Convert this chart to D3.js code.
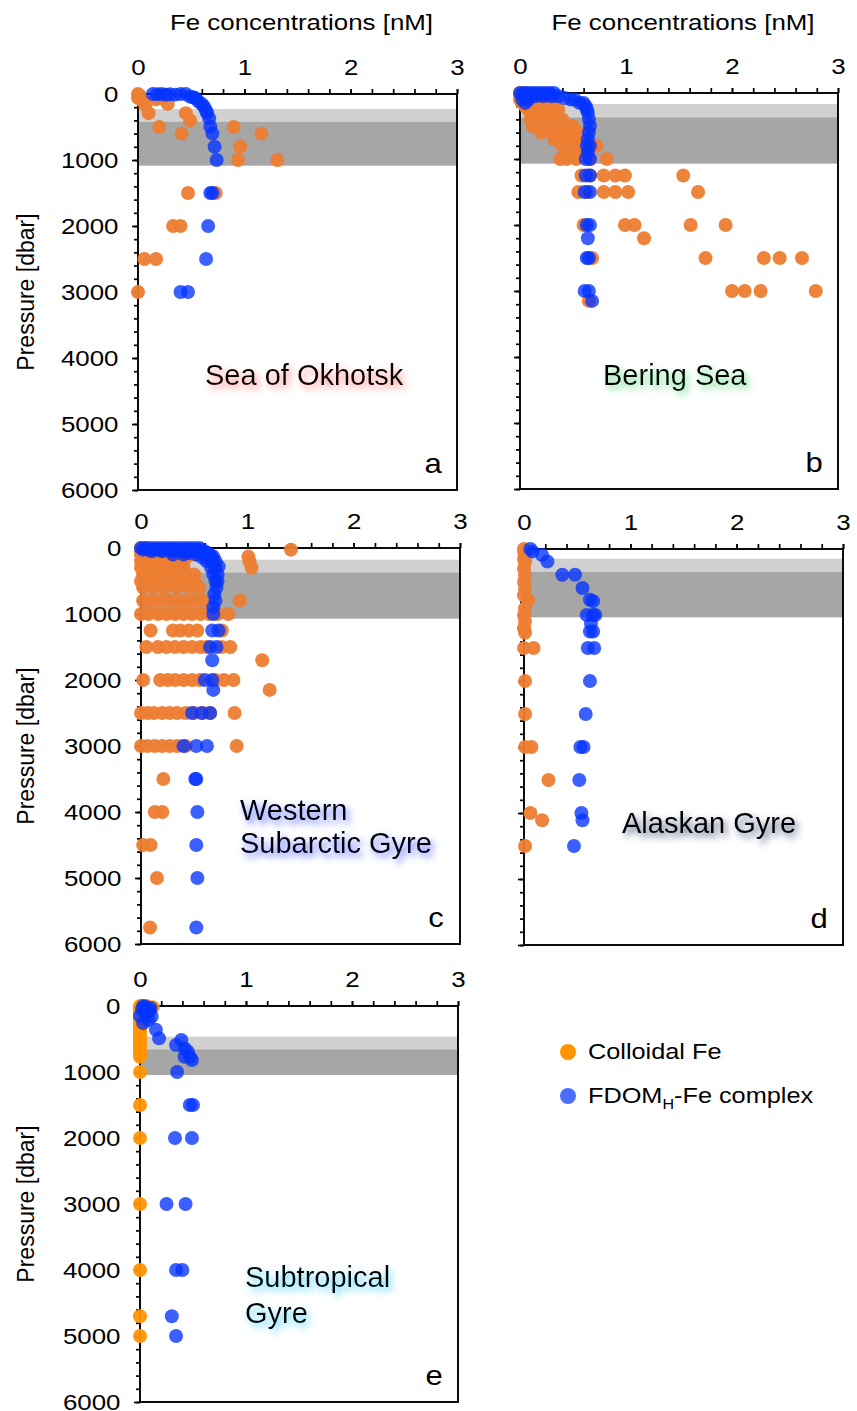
<!DOCTYPE html>
<html>
<head>
<meta charset="utf-8">
<script src="https://cdn.jsdelivr.net/npm/d3@7"></script>
<style>
body { margin: 0; background: #fff; }
text { font-family: "Liberation Sans", Arial, Helvetica, sans-serif; }
</style>
</head>
<body>
<svg id="fig"></svg>
<script>
// tick labels
const feTicks = [0, 1, 2, 3];
const pressureTicks = [0, 1000, 2000, 3000, 4000, 5000, 6000];

// [Fe nM, pressure dbar]
const okhotskColloidal = [
  [0.00, 0], [0.02, 30], [0.00, 60], [0.04, 100], [0.17, 80], [0.23, 60], [0.26, 10], [0.24, 40],
  [0.28, 150], [0.07, 170], [0.10, 290], [0.20, 500], [0.41, 600], [0.45, 290], [0.49, 400],
  [0.90, 500], [1.16, 600], [0.96, 800], [0.94, 1000], [1.31, 1000], [0.47, 1500], [0.73, 1500],
  [0.33, 2000], [0.40, 2000], [0.06, 2500], [0.17, 2500], [0.00, 3000]
];
const okhotskFdom = [
  [0.14, 0], [0.18, 5], [0.22, 0], [0.26, 10], [0.30, 5], [0.35, 10], [0.40, 0], [0.45, 0],
  [0.49, 40], [0.52, 50], [0.54, 65], [0.57, 115], [0.60, 150], [0.62, 190], [0.64, 250],
  [0.65, 290], [0.67, 370], [0.68, 495], [0.70, 600], [0.72, 800], [0.74, 1000], [0.68, 1500],
  [0.70, 1500], [0.66, 2000], [0.64, 2500], [0.40, 3000], [0.47, 3000]
];

// rows: [pressure, [Fe values]]
const beringColloidalRows = [
  [0, [0.00, 0.04]], [25, [0.00, 0.06]], [50, [0.02, 0.10]], [100, [0.00, 0.08, 0.16]],
  [150, [0.02, 0.12, 0.22]], [200, [0.05, 0.15, 0.25, 0.32]], [250, [0.08, 0.18, 0.28, 0.36]],
  [300, [0.10, 0.20, 0.30]], [400, [0.10, 0.20, 0.30, 0.40]], [500, [0.12, 0.22, 0.32, 0.42, 0.50]],
  [600, [0.20, 0.30, 0.40, 0.50, 0.55]], [700, [0.32, 0.45, 0.52]], [800, [0.40, 0.48, 0.56, 0.72]],
  [900, [0.45, 0.55]], [1000, [0.38, 0.44, 0.53, 0.66, 0.82]],
  [1250, [0.58, 0.66, 0.79, 0.90, 0.99, 1.54]], [1500, [0.55, 0.63, 0.79, 0.90, 1.02, 1.68]],
  [2000, [0.60, 0.99, 1.08, 1.61, 1.94]], [2200, [1.17]], [2500, [0.68, 1.75, 2.30, 2.45, 2.66]],
  [3000, [2.00, 2.12, 2.27, 2.79]], [3150, [0.65]]
];
const beringFdomRows = [
  [0, [0.00, 0.04, 0.08, 0.12, 0.16, 0.20, 0.24, 0.28, 0.32]], [25, [0.02, 0.10, 0.18, 0.26]],
  [50, [0.06, 0.14, 0.22, 0.30, 0.36]], [75, [0.42]], [100, [0.02, 0.08, 0.48, 0.52]],
  [150, [0.05, 0.56, 0.60]], [200, [0.62]], [250, [0.63]], [300, [0.64]], [400, [0.65]],
  [500, [0.66]], [600, [0.65]], [700, [0.64]], [800, [0.63, 0.66]], [900, [0.64]],
  [1000, [0.62, 0.66]], [1250, [0.62, 0.66]], [1500, [0.61, 0.66]], [2000, [0.63, 0.66]],
  [2200, [0.64]], [2500, [0.63, 0.65]], [3000, [0.61, 0.65]], [3150, [0.68]]
];

const wsgColloidalRows = [
  [0, [0.00, 0.05]], [25, [0.00, 0.10, 0.20, 1.41]], [50, [0.00, 0.08, 0.16, 0.25, 0.35]],
  [75, [0.02, 0.12, 0.22, 0.32, 0.42]], [100, [0.00, 0.10, 0.20, 0.30, 0.40, 0.50]], [130, [1.01]],
  [150, [0.02, 0.12, 0.22, 0.32, 0.42]], [200, [0.00, 0.10, 0.20, 0.30, 0.40, 1.02]],
  [250, [0.05, 0.15, 0.25, 0.35]], [300, [0.00, 0.10, 0.20, 0.30, 0.40, 1.04]],
  [400, [0.02, 0.12, 0.22, 0.32, 0.42, 0.50]], [500, [0.00, 0.10, 0.20, 0.30, 0.40, 0.50]],
  [600, [0.02, 0.12, 0.22, 0.34, 0.46, 0.55]], [800, [0.02, 0.10, 0.18, 0.26, 0.34, 0.42, 0.50, 0.58, 0.93]],
  [1000, [0.00, 0.07, 0.16, 0.24, 0.32, 0.40, 0.48, 0.56, 0.64, 0.72, 0.82]],
  [1250, [0.09, 0.30, 0.37, 0.45, 0.53, 0.76]],
  [1500, [0.05, 0.16, 0.24, 0.32, 0.40, 0.48, 0.56, 0.62, 0.76, 0.84]], [1700, [1.14]],
  [2000, [0.02, 0.18, 0.25, 0.32, 0.40, 0.48, 0.55, 0.70, 0.78, 0.87]], [2150, [1.21]],
  [2500, [0.00, 0.06, 0.12, 0.20, 0.27, 0.34, 0.42, 0.50, 0.58, 0.65, 0.88]],
  [3000, [0.00, 0.06, 0.13, 0.20, 0.27, 0.34, 0.42, 0.90]], [3500, [0.21]],
  [4000, [0.13, 0.20]], [4500, [0.02, 0.09]], [5000, [0.15]], [5750, [0.085]]
];
const wsgFdomRows = [
  [0, [0.00, 0.05, 0.10, 0.15, 0.20, 0.25, 0.30, 0.35, 0.40, 0.45, 0.50, 0.55]],
  [25, [0.02, 0.08, 0.14, 0.20, 0.26, 0.32, 0.38, 0.44, 0.50, 0.56]],
  [50, [0.10, 0.20, 0.30, 0.40, 0.50, 0.60]], [75, [0.45, 0.55, 0.62]], [100, [0.30, 0.40, 0.52, 0.60, 0.65]],
  [130, [0.68]], [150, [0.58, 0.66]], [200, [0.62, 0.70]], [280, [0.73]], [300, [0.66, 0.70]],
  [400, [0.68, 0.72]], [500, [0.70, 0.72]], [600, [0.71]], [700, [0.69]], [800, [0.70]],
  [900, [0.68]], [1000, [0.68]], [1250, [0.67, 0.73]], [1500, [0.65, 0.71]], [1700, [0.67]],
  [2000, [0.60, 0.67]], [2150, [0.68]], [2500, [0.48, 0.57, 0.65]], [3000, [0.40, 0.52, 0.62]],
  [3500, [0.51, 0.52]], [4000, [0.53]], [4500, [0.52]], [5000, [0.53]], [5750, [0.52]]
];

const alaskanColloidal = [
  [0.00, 0], [0.00, 40], [0.01, 90], [0.00, 150], [0.01, 200], [0.00, 300], [0.01, 400],
  [0.00, 500], [0.01, 600], [0.00, 700], [0.04, 780], [0.01, 900], [0.00, 1000], [0.01, 1100],
  [0.00, 1200], [0.01, 1270], [0.00, 1500], [0.09, 1500], [0.01, 2000], [0.01, 2500],
  [0.01, 3000], [0.07, 3000], [0.23, 3500], [0.06, 4000], [0.17, 4110], [0.01, 4500]
];
const alaskanFdom = [
  [0.06, 0], [0.08, 40], [0.17, 90], [0.22, 190], [0.36, 390], [0.48, 390], [0.55, 590],
  [0.62, 770], [0.65, 790], [0.59, 1000], [0.65, 1000], [0.67, 1000], [0.63, 1130], [0.62, 1250],
  [0.65, 1250], [0.60, 1500], [0.66, 1500], [0.62, 2000], [0.58, 2500], [0.53, 3000], [0.56, 3000],
  [0.52, 3500], [0.54, 4000], [0.55, 4110], [0.47, 4500]
];

const subtropicalColloidal = [
  [0.00, 0], [0.06, 0], [0.12, 20], [0.00, 25], [0.08, 40], [0.00, 50], [0.00, 75], [0.00, 100],
  [0.00, 125], [0.00, 150], [0.00, 200], [0.00, 250], [0.00, 300], [0.00, 350], [0.00, 400],
  [0.00, 450], [0.00, 500], [0.00, 550], [0.00, 600], [0.00, 650], [0.00, 700], [0.00, 770],
  [0.00, 1000], [0.00, 1500], [0.00, 2000], [0.00, 3000], [0.00, 4000], [0.00, 4700], [0.00, 5000]
];
const subtropicalFdom = [
  [0.03, 0], [0.05, 10], [0.10, 30], [0.02, 50], [0.09, 60], [0.06, 100], [0.05, 110], [0.00, 150],
  [0.11, 160], [0.08, 210], [0.03, 260], [0.15, 360], [0.18, 490], [0.39, 515], [0.34, 590],
  [0.42, 640], [0.45, 690], [0.42, 770], [0.47, 770], [0.49, 820], [0.35, 1000], [0.47, 1500],
  [0.50, 1500], [0.33, 2000], [0.49, 2000], [0.25, 3000], [0.43, 3000], [0.34, 4000], [0.40, 4000],
  [0.30, 4700], [0.34, 5000]
];

// water mass bands [light top, light/dark boundary, dark bottom] in dbar
const okhotskBands = [227, 420, 1086];
const beringBands = [165, 368, 1070];
const wsgBands = [177, 370, 1071];
const alaskanBands = [147, 344, 1036];
const subtropicalBands = [465, 656, 1045];

const expand = rows => rows.flatMap(([p, xs]) => xs.map(fe => [fe, p]));

const W = 857, H = 1411, PH = 396, SX = 1.15, R = 7;
const ORANGE = "#ED7D31", ORANGE2 = "#FF9300", BLUE = "#0433FF";

const panels = [
  { id: "a", left: 138, right: 457, top: 94, col: okhotskColloidal, fdom: okhotskFdom, bands: okhotskBands,
    yLab: true, title: true, name: ["Sea of Okhotsk"], nx: 205, ny: [385], glow: "#ff8080", orange: ORANGE },
  { id: "b", left: 520, right: 838, top: 93, col: expand(beringColloidalRows), fdom: expand(beringFdomRows), bands: beringBands,
    yLab: false, title: true, name: ["Bering Sea"], nx: 603, ny: [385], glow: "#5fd880", orange: ORANGE },
  { id: "c", left: 141, right: 460, top: 548, col: expand(wsgColloidalRows), fdom: expand(wsgFdomRows), bands: wsgBands,
    yLab: true, title: false, name: ["Western", "Subarctic Gyre"], nx: 240, ny: [820, 853], glow: "#4a5cff", orange: ORANGE },
  { id: "d", left: 524, right: 843, top: 549, col: alaskanColloidal, fdom: alaskanFdom, bands: alaskanBands,
    yLab: false, title: false, name: ["Alaskan Gyre"], nx: 622, ny: [833], glow: "#3a4670", orange: ORANGE },
  { id: "e", left: 140, right: 458, top: 1006, col: subtropicalColloidal, fdom: subtropicalFdom, bands: subtropicalBands,
    yLab: true, title: false, name: ["Subtropical", "Gyre"], nx: 245, ny: [1287, 1323], glow: "#40cdf2", orange: ORANGE2 }
];

const svg = d3.select("#fig").attr("width", W).attr("height", H);
const defs = svg.append("defs");

function glowFilter(id, color) {
  const f = defs.append("filter").attr("id", id)
    .attr("x", "-20%").attr("y", "-60%").attr("width", "140%").attr("height", "220%");
  f.append("feGaussianBlur").attr("in", "SourceAlpha").attr("stdDeviation", 3.5).attr("result", "blur");
  f.append("feOffset").attr("in", "blur").attr("dx", 3).attr("dy", 4).attr("result", "off");
  f.append("feFlood").attr("flood-color", color).attr("flood-opacity", 0.9);
  f.append("feComposite").attr("in2", "off").attr("operator", "in").attr("result", "shadow");
  const m = f.append("feMerge");
  m.append("feMergeNode").attr("in", "shadow");
  m.append("feMergeNode").attr("in", "SourceGraphic");
}

function stretchedText(sel, x, y, str, size, anchor) {
  return sel.append("text")
    .attr("transform", `translate(${x},${y}) scale(${SX},1)`)
    .attr("text-anchor", anchor || "start")
    .attr("font-size", size)
    .attr("fill", "#000")
    .text(str);
}

panels.forEach(p => {
  const x = d3.scaleLinear().domain([0, 3]).range([p.left, p.right]);
  const y = d3.scaleLinear().domain([0, 6000]).range([p.top, p.top + PH]);
  const g = svg.append("g");

  // gray bands
  g.append("rect").attr("x", x(0)).attr("width", x(3) - x(0))
    .attr("y", y(p.bands[0])).attr("height", y(p.bands[1]) - y(p.bands[0])).attr("fill", "#D0D0D0");
  g.append("rect").attr("x", x(0)).attr("width", x(3) - x(0))
    .attr("y", y(p.bands[1])).attr("height", y(p.bands[2]) - y(p.bands[1])).attr("fill", "#A6A6A6");

  // top axis
  const gx = g.append("g").attr("transform", `translate(0,${p.top})`);
  gx.call(d3.axisTop(x).tickValues(d3.range(0, 3.01, 0.2)).tickSize(5).tickFormat(""));
  const gxl = g.append("g").attr("transform", `translate(0,${p.top})`);
  gxl.call(d3.axisTop(x).tickValues(feTicks).tickSize(5).tickPadding(14).tickFormat(d3.format("d")));
  [gx, gxl].forEach(a => {
    a.select(".domain").remove();
    a.selectAll("line").attr("stroke", "#000").attr("stroke-width", 1.7);
  });
  gxl.selectAll("text").attr("font-size", 22.5).attr("fill", "#000")
    .attr("font-family", "Liberation Sans, Arial, sans-serif")
    .attr("transform", `scale(${SX},1)`);

  // left axis
  const gy = g.append("g").attr("transform", `translate(${p.left},0)`);
  gy.call(d3.axisLeft(y).tickValues(d3.range(0, 6001, 200)).tickSize(4).tickFormat(""));
  const gyl = g.append("g").attr("transform", `translate(${p.left},0)`);
  gyl.call(d3.axisLeft(y).tickValues(pressureTicks).tickSize(6).tickPadding(11)
    .tickFormat(p.yLab ? d3.format("d") : ""));
  [gy, gyl].forEach(a => {
    a.select(".domain").remove();
    a.selectAll("line").attr("stroke", "#000").attr("stroke-width", 1.7);
  });
  gyl.selectAll("text").attr("font-size", 22.5).attr("fill", "#000")
    .attr("font-family", "Liberation Sans, Arial, sans-serif")
    .attr("transform", `scale(${SX},1)`);

  // frame
  g.append("rect").attr("x", x(0)).attr("y", y(0))
    .attr("width", x(3) - x(0)).attr("height", y(6000) - y(0))
    .attr("fill", "none").attr("stroke", "#000").attr("stroke-width", 1.9);

  // region label with glow
  glowFilter("glow-" + p.id, p.glow);
  const nameG = g.append("g").attr("filter", `url(#glow-${p.id})`);
  p.name.forEach((line, i) => {
    nameG.append("text").attr("x", p.nx).attr("y", p.ny[i])
      .attr("font-size", 29).attr("fill", "#000").text(line);
  });

  // panel letter
  stretchedText(g, p.right - 24, p.top + PH - 17, p.id, 27, "middle");

  // titles
  if (p.title) stretchedText(g, (p.left + p.right) / 2 + 4, 30, "Fe concentrations [nM]", 22.5, "middle");
  if (p.yLab) {
    g.append("text")
      .attr("transform", `translate(34,${p.top + PH / 2}) rotate(-90)`)
      .attr("text-anchor", "middle").attr("font-size", 23).attr("fill", "#000")
      .text("Pressure [dbar]");
  }

  // points
  g.append("g").selectAll("circle").data(p.col).join("circle")
    .attr("cx", d => x(d[0])).attr("cy", d => y(d[1])).attr("r", R)
    .attr("fill", p.orange).attr("fill-opacity", 0.95);
  g.append("g").selectAll("circle").data(p.fdom).join("circle")
    .attr("cx", d => x(d[0])).attr("cy", d => y(d[1])).attr("r", R)
    .attr("fill", BLUE).attr("fill-opacity", 0.78);
});

// legend
const legend = svg.append("g");
legend.append("circle").attr("cx", 568).attr("cy", 1052).attr("r", 8).attr("fill", ORANGE2);
stretchedText(legend, 588, 1059, "Colloidal Fe", 22);
legend.append("circle").attr("cx", 568).attr("cy", 1096).attr("r", 8).attr("fill", BLUE).attr("fill-opacity", 0.72);
const lt = legend.append("text")
  .attr("transform", `translate(588,1103) scale(${SX},1)`)
  .attr("font-size", 22).attr("fill", "#000");
lt.append("tspan").text("FDOM");
lt.append("tspan").attr("font-size", 14).attr("dy", 6).text("H");
lt.append("tspan").attr("dy", -6).text("-Fe complex");
</script>
</body>
</html>
